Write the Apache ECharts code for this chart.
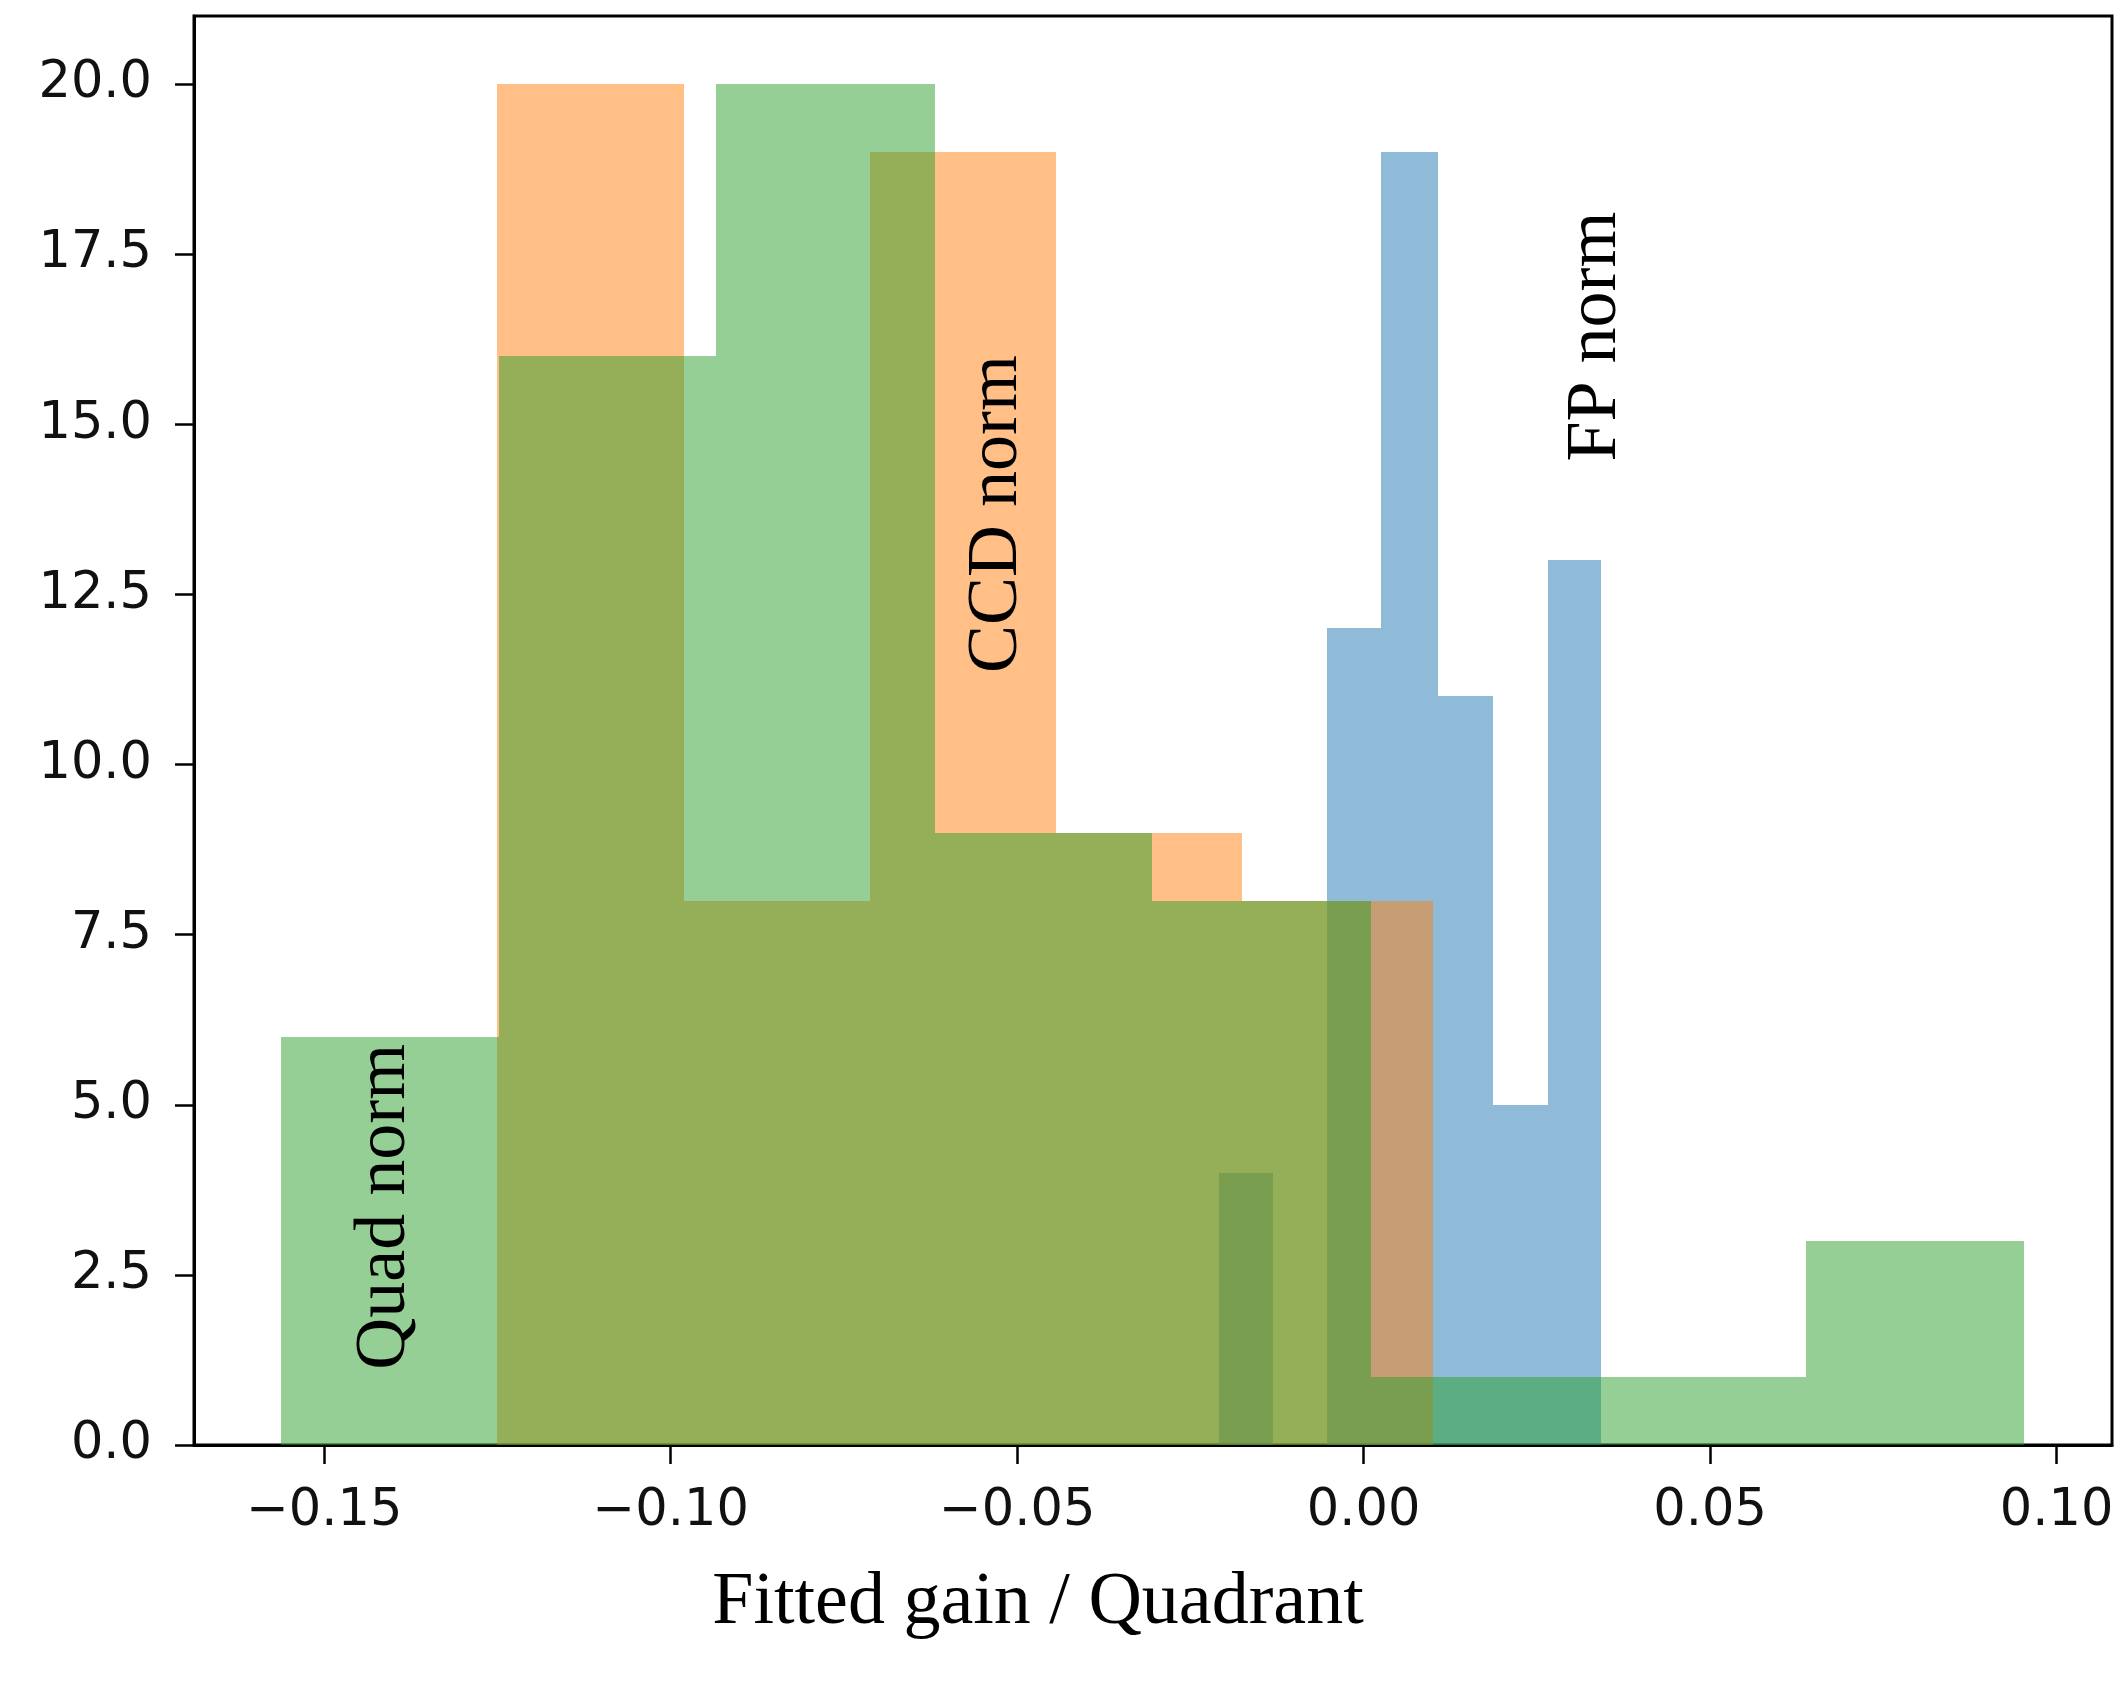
<!DOCTYPE html>
<html>
<head>
<meta charset="utf-8">
<script src="https://cdn.jsdelivr.net/npm/echarts@6/dist/echarts.min.js"></script>
<style>
html, body { margin: 0; padding: 0; background: #fff; }
#chart { width: 2126px; height: 1708px; }
</style>
</head>
<body>
<div id="chart"></div>
<script>
// ---- data ----
const fpEdges = [-0.0209, -0.0131, -0.0053, 0.0025, 0.0108, 0.0187, 0.0266, 0.0343];
const fpCounts = [4, 0, 12, 19, 11, 5, 13];

const ccdEdges = [-0.1250, -0.0981, -0.0713, -0.0444, -0.0175, 0.0100];
const ccdCounts = [20, 8, 19, 9, 8];

const quadEdges = [-0.1562, -0.1248, -0.0934, -0.0619, -0.0305, 0.0010, 0.0324, 0.0639, 0.0953];
const quadCounts = [6, 16, 20, 9, 8, 1, 1, 3];

const xTickValues = [-0.15, -0.10, -0.05, 0.00, 0.05, 0.10];
const xTickLabels = ['\u22120.15', '\u22120.10', '\u22120.05', '0.00', '0.05', '0.10'];
const yTickValues = [0, 2.5, 5, 7.5, 10, 12.5, 15, 17.5, 20];
const yTickLabels = ['0.0', '2.5', '5.0', '7.5', '10.0', '12.5', '15.0', '17.5', '20.0'];

const annotations = [
  { text: 'Quad norm', x: -0.1412, y: 3.50 },
  { text: 'CCD norm', x: -0.0529, y: 13.68 },
  { text: 'FP norm', x: 0.0335, y: 16.29 }
];
const xAxisTitle = 'Fitted gain / Quadrant';

// ---- build ----
function binsToData(edges, counts) {
  const out = [];
  for (let i = 0; i < counts.length; i++) {
    if (counts[i] > 0) out.push([edges[i], edges[i + 1], counts[i]]);
  }
  return out;
}

function histSeries(name, edges, counts, color) {
  return {
    name: name,
    type: 'custom',
    data: binsToData(edges, counts),
    encode: { x: [0, 1], y: 2 },
    renderItem: function (params, api) {
      const p0 = api.coord([api.value(0), api.value(2)]);
      const p1 = api.coord([api.value(1), 0]);
      const x0 = Math.round(p0[0]), x1 = Math.round(p1[0]);
      const y0 = Math.round(p0[1]), y1 = Math.round(p1[1]);
      return {
        type: 'rect',
        shape: { x: x0, y: y0, width: x1 - x0, height: y1 - y0 },
        style: { fill: color, opacity: 0.5 }
      };
    }
  };
}

function labelFor(values, labels) {
  return function (v) {
    for (let i = 0; i < values.length; i++) {
      if (Math.abs(values[i] - v) < 1e-9) return labels[i];
    }
    return '';
  };
}

const chart = echarts.init(document.getElementById('chart'), null, { renderer: 'canvas' });

const option = {
  animation: false,
  backgroundColor: '#ffffff',
  grid: {
    left: 194, right: 14, top: 16, bottom: 263,
    show: true, borderColor: '#000', borderWidth: 3, backgroundColor: 'transparent'
  },
  xAxis: {
    type: 'value',
    min: -0.1688, max: 0.1080,
    splitLine: { show: false },
    axisLine: { show: true, onZero: false, lineStyle: { color: '#000', width: 3 } },
    axisTick: { show: true, length: 19, lineStyle: { color: '#000', width: 2.5 }, customValues: xTickValues },
    axisLabel: {
      customValues: xTickValues,
      formatter: labelFor(xTickValues, xTickLabels),
      fontFamily: 'DejaVu Sans', fontSize: 51, color: '#111', margin: 41
    }
  },
  yAxis: {
    type: 'value',
    min: 0, max: 21,
    splitLine: { show: false },
    axisLine: { show: true, onZero: false, lineStyle: { color: '#000', width: 3 } },
    axisTick: { show: true, length: 19, lineStyle: { color: '#000', width: 2.5 }, customValues: yTickValues },
    axisLabel: {
      customValues: yTickValues,
      formatter: labelFor(yTickValues, yTickLabels),
      fontFamily: 'DejaVu Sans', fontSize: 51, color: '#111', margin: 42
    }
  },
  series: [
    histSeries('FP norm', fpEdges, fpCounts, '#1f77b4'),
    histSeries('CCD norm', ccdEdges, ccdCounts, '#ff7f0e'),
    histSeries('Quad norm', quadEdges, quadCounts, '#2ca02c')
  ]
};
chart.setOption(option);

// annotations & axis title (text)
const graphics = annotations.map(function (a) {
  const p = chart.convertToPixel({ gridIndex: 0 }, [a.x, a.y]);
  return {
    type: 'text',
    x: p[0], y: p[1],
    rotation: Math.PI / 2,
    z: 100,
    style: {
      text: a.text,
      fill: '#000',
      font: '72px "Liberation Serif"',
      align: 'center',
      verticalAlign: 'middle'
    }
  };
});
graphics.push({
  type: 'text',
  x: 1038, y: 1604,
  z: 100,
  style: {
    text: xAxisTitle,
    fill: '#000',
    font: '74px "Liberation Serif"',
    align: 'center',
    verticalAlign: 'middle'
  }
});
chart.setOption({ graphic: graphics });
</script>
</body>
</html>
